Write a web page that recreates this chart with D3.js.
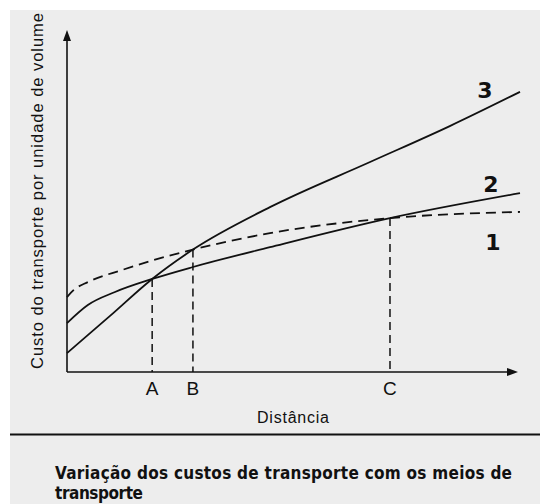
<!DOCTYPE html>
<html>
<head>
<meta charset="utf-8">
<script src="https://cdn.jsdelivr.net/npm/d3@7"></script>
<style>
  body { margin: 0; background: #fff; }
  svg { display: block; }
</style>
</head>
<body>
<div id="chart"></div>
<script>
// cost curves, distance 0-100, cost 0-100 (arbitrary units)
const curve1 = [[0, 21.9], [1.5, 24.0], [4.6, 26.3], [12.1, 29.8], [18.8, 32.6], [27.8, 35.8], [44.8, 40.6], [71.3, 45.0], [100, 46.8]];
const curve2 = [[0, 14.3], [4.6, 19.6], [10.6, 23.4], [18.8, 27.2], [27.8, 30.7], [44.8, 36.5], [71.3, 45.0], [100, 52.3]];
const curve3 = [[0, 5.5], [9.5, 16.4], [18.8, 27.2], [27.8, 35.8], [44.8, 48.2], [66.9, 61.4], [84.5, 71.9], [100, 81.9]];
const curveNames = ["1", "2", "3"];
const tickLabels = ["A", "B", "C"];
const tickX = [18.8, 27.8, 71.3];
const tickY = [27.2, 35.8, 45.0];

const W = 540, H = 504;
const svg = d3.select("#chart").append("svg")
    .attr("width", W)
    .attr("height", H);

// scanned page background
svg.append("rect")
    .attr("x", 10).attr("y", 10)
    .attr("width", W - 10).attr("height", H - 10)
    .attr("fill", "#ededed");

const x = d3.scaleLinear().domain([0, 100]).range([67, 520]);
const y = d3.scaleLinear().domain([0, 100]).range([372, 30]);

const ink = "#111";
const sans = "'Liberation Sans', Arial, sans-serif";

// axes with arrows
svg.append("line")
    .attr("x1", x(0)).attr("y1", y(0))
    .attr("x2", x(0)).attr("y2", y(100) + 8)
    .attr("stroke", ink).attr("stroke-width", 1.6);
svg.append("path")
    .attr("d", `M${x(0)},${y(100)} l-4,11 l8,0 z`)
    .attr("fill", ink);

svg.append("line")
    .attr("x1", x(0)).attr("y1", y(0))
    .attr("x2", x(100) - 10).attr("y2", y(0))
    .attr("stroke", ink).attr("stroke-width", 1.6);
svg.append("path")
    .attr("d", `M${x(100) - 2},${y(0)} l-11,-4 l0,8 z`)
    .attr("fill", ink);

// drop lines and tick labels
tickX.forEach((v, i) => {
    svg.append("line")
        .attr("x1", x(v)).attr("y1", y(tickY[i]))
        .attr("x2", x(v)).attr("y2", y(0))
        .attr("stroke", ink).attr("stroke-width", 1.5)
        .attr("stroke-dasharray", "8,5");
    svg.append("text")
        .attr("x", x(v)).attr("y", 395)
        .attr("text-anchor", "middle")
        .attr("font-family", sans)
        .attr("font-size", 19)
        .attr("fill", ink)
        .text(tickLabels[i]);
});

const line = d3.line()
    .x(d => x(d[0]))
    .y(d => y(d[1]))
    .curve(d3.curveMonotoneX);

[curve1, curve2, curve3].forEach((pts, i) => {
    svg.append("path")
        .attr("d", line(pts))
        .attr("fill", "none")
        .attr("stroke", ink)
        .attr("stroke-width", 1.8)
        .attr("stroke-dasharray", i === 0 ? "10,6" : null);
});

// handwritten curve numbers
const labelPos = [[493, 250], [491, 192], [485, 98]];
curveNames.forEach((n, i) => {
    svg.append("text")
        .attr("x", labelPos[i][0]).attr("y", labelPos[i][1])
        .attr("text-anchor", "middle")
        .attr("font-family", "'DejaVu Sans', sans-serif")
        .attr("font-weight", "bold")
        .attr("font-size", 22)
        .attr("fill", ink)
        .text(n);
});

// axis titles
svg.append("text")
    .attr("transform", "translate(43,191) rotate(-90)")
    .attr("text-anchor", "middle")
    .attr("font-family", sans)
    .attr("font-size", 16.5)
    .attr("textLength", 356)
    .attr("lengthAdjust", "spacing")
    .attr("fill", ink)
    .text("Custo do transporte  por unidade de volume");

svg.append("text")
    .attr("x", 293).attr("y", 423)
    .attr("text-anchor", "middle")
    .attr("font-family", sans)
    .attr("font-size", 16)
    .attr("textLength", 72)
    .attr("fill", ink)
    .text("Distância");

// rule and caption
svg.append("line")
    .attr("x1", 10).attr("x2", W)
    .attr("y1", 434.5).attr("y2", 434.5)
    .attr("stroke", ink).attr("stroke-width", 2);

const capFont = "'Liberation Sans Narrow', 'DejaVu Sans Condensed', sans-serif";
svg.append("text")
    .attr("x", 55).attr("y", 479)
    .attr("font-family", capFont)
    .attr("font-weight", "bold")
    .attr("font-size", 17)
    .attr("textLength", 457)
    .attr("lengthAdjust", "spacing")
    .attr("fill", ink)
    .text("Variação dos custos de transporte com os meios de");

svg.append("text")
    .attr("x", 55).attr("y", 499)
    .attr("font-family", capFont)
    .attr("font-weight", "bold")
    .attr("font-size", 17)
    .attr("textLength", 88)
    .attr("lengthAdjust", "spacing")
    .attr("fill", ink)
    .text("transporte");
</script>
</body>
</html>
